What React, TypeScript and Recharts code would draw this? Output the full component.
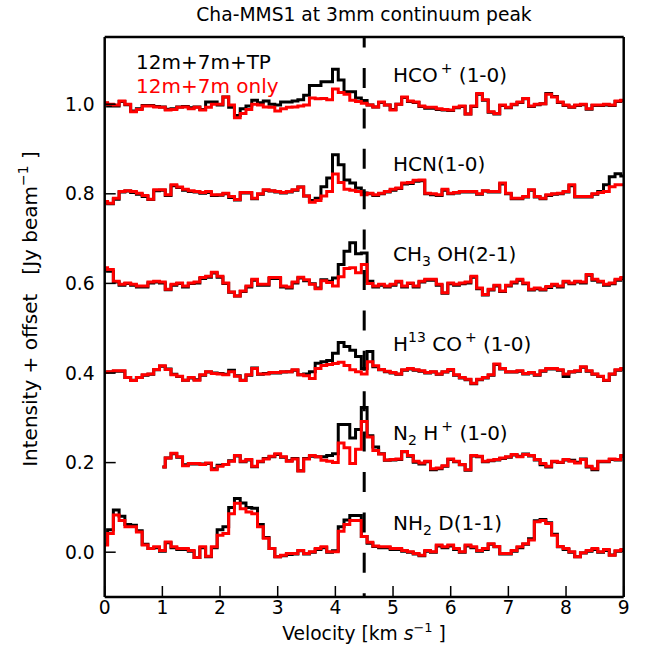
import { LineChart, Line, XAxis, YAxis, ReferenceLine } from "recharts";

// channel width of the spectra, km/s
const dv = 0.1;
const velTicks = [0, 1, 2, 3, 4, 5, 6, 7, 8, 9];
const intTicks = [0, 0.2, 0.4, 0.6, 0.8, 1.0];

// intensities in mJy/beam, one value per 0.1 km/s channel
// HCO+ (1-0), channels from 0.0 km/s
const hcoTP = [
  2, -4, -4, 6, -1, -15, -10, -3, -3, -5,
  -6, -11, -10, -6, -5, -8, -6, -12, 5, 5,
  -2, 16, -7, -25, -10, -4, 9, 3, 7, 0,
  -2, 5, 5, 7, 10, 20, 42, 42, 50, 50,
  78, 54, 28, 28, 14, 8, -2, -6, 4, -2,
  -12, 0, 15, 6, 4, -5, -9, -9, -12, -13,
  -14, -8, -5, -22, -5, 22, 9, -18, -22, -3,
  -8, -1, 4, 12, -5, -1, 1, 24, 17, 4,
  -3, -7, -3, -1, -11, -3, -3, -2, -3, 6, 8,
];
const hcoInt = [
  3, 0, -2, 7, 0, -17, -12, -4, -4, -6,
  -7, -13, -12, -7, -6, -10, -7, -13, -7, 0,
  0, 16, -2, -30, -21, -12, 0, -2, -6, -7,
  -15, -10, -7, -6, -4, -2, 14, 12, 13, 10,
  34, 26, 22, 9, 6, 2, -2, -6, 5, -2,
  -13, 0, 16, 7, 5, -4, -7, -7, -10, -12,
  -13, -7, -4, -22, -4, 24, 10, -17, -21, -2,
  -7, 0, 5, 13, -4, 0, 1, 22, 16, 5,
  -2, -6, -2, 0, -10, -2, -2, 0, -2, 7, 9,
];

// HCN (1-0)
const hcnTP = [
  -19, -22, -12, 4, 6, 3, -1, -6, -13, 7,
  8, -4, 18, 14, 8, 5, 4, 1, 3, -4,
  -3, 0, -8, -14, 2, 2, -11, -1, 8, 6,
  4, 2, 4, 8, 15, -5, -15, -10, 16, 35,
  87, 65, 31, 24, 13, 2, 0, -4, 0, 4,
  8, 12, 22, 23, 28, 29, 0, -2, -4, 8,
  0, 2, 4, 4, 4, -1, 6, 4, 4, 22,
  0, -11, -11, -7, 8, -7, -11, -4, -1, 0,
  4, 18, -7, -7, -7, -1, 5, 20, 38, 45, 40,
];
const hcnInt = [
  -17, -21, -10, 5, 7, 5, 1, -4, -12, 9,
  9, -2, 20, 15, 10, 7, 5, 3, 5, -2,
  -2, 1, -6, -13, 3, 3, -10, 0, 9, 7,
  5, 3, 5, 9, 15, -5, -19, -15, -5, 5,
  44, 25, 10, 8, 5, -2, 1, -2, 1, 5,
  10, 13, 24, 25, 30, 31, 1, 0, -2, 10,
  1, 3, 5, 5, 5, 0, 7, 5, 5, 24,
  1, -10, -10, -6, 9, -6, -10, -2, 0, 1,
  5, 20, -6, -6, -6, 0, 3, 5, 16, 20, 20,
];

// CH3OH (2-1)
const ch3ohTP = [
  30, 27, 3, -4, 0, -4, -8, -8, 1, 3,
  1, -14, -4, 0, -8, 0, 1, 11, 14, 23,
  14, 0, -20, -28, -18, -8, 7, -4, -4, 11,
  11, -8, -10, 1, 12, 6, -1, -10, 8, 5,
  12, 42, 72, 91, 66, 68, 5, -8, -4, -8,
  -4, 3, -8, 0, -8, 3, 7, 7, -4, -22,
  -1, -4, -1, 1, 14, -12, -26, -15, -6, -18,
  -6, 1, 7, -1, -15, -12, -15, -9, -4, -8,
  3, -1, 3, 1, 18, 7, 3, -4, -1, 7, 11,
];
const ch3ohInt = [
  35, 31, 5, -2, 1, -2, -6, -6, 3, 5,
  3, -13, -2, 1, -6, 1, 3, 13, 16, 25,
  16, 1, -19, -28, -17, -6, 9, -2, -2, 13,
  13, -6, -8, 3, 14, 8, -2, -12, 6, 2,
  -6, 15, 33, 35, 24, 42, 0, -6, -2, -6,
  -2, 5, -6, 1, -6, 5, 9, 9, -2, -21,
  1, -2, 1, 3, 16, -10, -25, -13, -4, -17,
  -4, 3, 9, 1, -13, -10, -13, -7, -2, -6,
  5, 1, 5, 3, 20, 9, 5, -2, 1, 9, 13,
];

// H13CO+ (1-0)
const h13coTP = [
  1, 2, 4, 4, -10, -16, -10, -5, -3, 7,
  15, 9, -3, -8, -16, -11, -15, -5, 2, 0,
  -1, -3, 6, -6, -16, -5, 11, -3, -1, 0,
  0, 2, 3, 6, -4, -2, 3, 22, 25, 28,
  44, 68, 59, 51, 37, 10, 48, 14, 7, 3,
  0, -3, 6, 9, 6, 4, 0, 2, -3, 2,
  6, -5, -11, -15, -24, -15, -11, -5, 19, 9,
  2, 2, 4, -2, 0, -5, 4, 9, 9, 6,
  -8, 2, 4, 13, 4, -3, -8, -17, -3, 6, 9,
];
const h13coInt = [
  1, 3, 5, 5, -10, -17, -10, -4, -2, 8,
  16, 8, -4, -7, -16, -10, -16, -4, 3, -1,
  -2, -4, 3, -7, -17, -4, 10, -2, -2, 1,
  1, 3, 3, 7, -4, -6, -12, 10, 17, 19,
  21, 24, 17, 7, 3, -2, 25, 16, 8, 4,
  1, -2, 7, 10, 7, 5, 1, 3, -2, 3,
  8, -4, -10, -14, -23, -14, -10, -4, 20, 10,
  3, 3, 5, -1, 1, -4, 5, 10, 10, 7,
  -2, 3, 5, 14, 5, -2, -7, -16, -2, 7, 10,
];

// N2H+ (1-0), channels from 1.0 km/s
const n2hStart = 1.0;
const n2hTP = [
  -10, 10, 20, 12, -5, -3, -3, -3, -2, -14,
  -6, -4, 4, 15, 2, 6, -9, 2, 9, 13,
  18, 12, 4, 9, -18, 9, 14, 13, 13, 16,
  20, 85, 85, 55, 74, 123, 60, 35, 20, 5,
  6, 7, 24, 14, 1, -3, 2, -16, -14, -8,
  7, 2, -5, -17, 15, 13, 2, 4, 6, 9,
  12, 17, 14, 19, 15, 6, -5, -10, 2, 0,
  6, 5, 1, 8, -10, -16, 2, 2, 7, 6, 15,
];
const n2hInt = [
  -10, 10, 21, 13, -7, -2, -2, -4, -1, -16,
  -8, -4, 3, 16, 3, 7, -8, 3, 8, 14,
  20, 13, 3, 8, -19, 8, 16, 13, 5, 3,
  0, 44, 33, -2, 30, 92, 57, 27, 19, 6,
  7, 8, 25, 16, 3, -1, 3, -14, -12, -7,
  8, 3, -4, -16, 16, 14, 3, 5, 7, 10,
  13, 18, 13, 18, 16, 7, -2, -8, 3, 1,
  7, 3, -1, 7, -8, -14, 3, 3, 8, 7, 16,
];

// NH2D (1-1)
const nh2dTP = [
  18, 50, 94, 80, 62, 60, 48, 18, 8, 10,
  2, 21, 10, 6, 6, 2, -12, 10, -10, 10,
  50, 57, 100, 120, 110, 100, 98, 62, 33, 8,
  -10, -8, -5, -4, 3, -4, 0, 6, 10, 0,
  3, 57, 72, 82, 82, 35, 20, 13, 10, 10,
  6, 6, 2, 0, -4, -8, 2, 0, 14, 10,
  14, 6, 0, 14, 10, 2, 6, 18, 12, -4,
  -4, 2, 10, 18, 30, 70, 73, 66, 40, 12,
  6, 0, -10, -2, 2, 6, 0, 4, -6, 2, 4,
];
const nh2dInt = [
  16, 42, 83, 71, 57, 57, 45, 16, 8, 12,
  4, 23, 12, 8, 8, 4, -12, 12, -9, 12,
  38, 42, 86, 109, 97, 90, 86, 57, 31, 8,
  -10, -7, -3, -3, 4, -3, 1, 8, 12, 1,
  1, 47, 62, 71, 71, 35, 22, 14, 12, 12,
  8, 8, 4, 1, -3, -7, 4, 1, 16, 12,
  16, 8, 1, 16, 12, 4, 8, 19, 13, -3,
  -3, 4, 12, 19, 27, 68, 71, 64, 38, 13,
  8, 1, -10, -1, 4, 8, 1, 6, -7, 3, 6,
];

const species = [
  { key: "hco", offset: 1.0, start: 0, tp: hcoTP, int: hcoInt },
  { key: "hcn", offset: 0.8, start: 0, tp: hcnTP, int: hcnInt },
  { key: "ch3oh", offset: 0.6, start: 0, tp: ch3ohTP, int: ch3ohInt },
  { key: "h13co", offset: 0.4, start: 0, tp: h13coTP, int: h13coInt },
  { key: "n2h", offset: 0.2, start: n2hStart, tp: n2hTP, int: n2hInt },
  { key: "nh2d", offset: 0.0, start: 0, tp: nh2dTP, int: nh2dInt },
];

function spectrum(vals: number[], start: number, offset: number) {
  return vals.map((m, i) => ({
    v: Math.round((start + i * dv) * 100) / 100,
    y: offset + m / 1000,
  }));
}

const FONT = "DejaVu Sans, sans-serif";
const W = 660;
const H = 646;
const plotTop = 37;
const plotH = 560;
const yMin = -0.1;
const yMax = 1.15;
const yPix = (val: number) => plotTop + ((yMax - val) / (yMax - yMin)) * plotH;

const sub = (s: string) => (
  <>
    <tspan dy={5} fontSize={14}>{s}</tspan>
    <tspan dy={-5}> </tspan>
  </>
);
const sup = (s: string) => (
  <>
    <tspan dx={3} dy={-9} fontSize={14}>{s}</tspan>
    <tspan dy={9}> </tspan>
  </>
);

const labels = [
  { offset: 1.0, body: <>HCO{sup("+")}(1-0)</> },
  { offset: 0.8, body: <>HCN(1-0)</> },
  { offset: 0.6, body: <>CH{sub("3")}OH(2-1)</> },
  { offset: 0.4, body: <>H<tspan dy={-9} fontSize={14}>13</tspan><tspan dy={9}> CO</tspan>{sup("+")}(1-0)</> },
  { offset: 0.2, body: <>N{sub("2")}H{sup("+")}(1-0)</> },
  { offset: 0.0, body: <>NH{sub("2")}D(1-1)</> },
];

const axisStyle = { stroke: "#000", strokeWidth: 2.5 };
const tickLineStyle = { stroke: "#000", strokeWidth: 1.5 };
const tickText = { fill: "#000", fontSize: 18.7, fontFamily: FONT };

export default function App() {
  return (
    <div style={{ position: "absolute", left: 0, top: 0, width: W, height: H, background: "#fff" }}>
      <LineChart width={W} height={H} margin={{ top: 27, right: 26.3, bottom: 19, left: 44.7 }}>
        <XAxis
          xAxisId="b"
          type="number"
          dataKey="v"
          domain={[0, 9]}
          ticks={velTicks}
          interval={0}
          allowDataOverflow
          height={30}
          axisLine={axisStyle}
          tickLine={tickLineStyle}
          tickSize={-11}
          tickMargin={15}
          tick={tickText}
        />
        <XAxis
          xAxisId="t"
          orientation="top"
          type="number"
          domain={[0, 9]}
          ticks={velTicks}
          interval={0}
          allowDataOverflow
          height={10}
          axisLine={axisStyle}
          tickLine={tickLineStyle}
          tickSize={-11}
          tick={false}
        />
        <YAxis
          yAxisId="l"
          type="number"
          domain={[yMin, yMax]}
          ticks={intTicks}
          interval={0}
          allowDataOverflow
          width={60}
          axisLine={axisStyle}
          tickLine={tickLineStyle}
          tickSize={-11}
          tickMargin={21}
          tick={tickText}
          tickFormatter={(v: number) => v.toFixed(1)}
        />
        <YAxis
          yAxisId="r"
          orientation="right"
          type="number"
          domain={[yMin, yMax]}
          ticks={intTicks}
          interval={0}
          allowDataOverflow
          width={10}
          axisLine={axisStyle}
          tickLine={tickLineStyle}
          tickSize={-11}
          tick={false}
        />
        {species.flatMap((s) => [
          <Line
            key={s.key + "-tp"}
            xAxisId="b"
            yAxisId="l"
            data={spectrum(s.tp, s.start, s.offset)}
            dataKey="y"
            type="step"
            stroke="#000"
            strokeWidth={3}
            dot={false}
            activeDot={false}
            isAnimationActive={false}
          />,
          <Line
            key={s.key + "-int"}
            xAxisId="b"
            yAxisId="l"
            data={spectrum(s.int, s.start, s.offset)}
            dataKey="y"
            type="step"
            stroke="#ff0000"
            strokeWidth={3}
            dot={false}
            activeDot={false}
            isAnimationActive={false}
          />,
        ])}
        <ReferenceLine
          xAxisId="b"
          yAxisId="l"
          segment={[{ x: 4.5, y: yMax }, { x: 4.5, y: yMin }]}
          stroke="#000"
          strokeWidth={3}
          strokeDasharray="20 20.4"
          strokeDashoffset={9.4}
        />
      </LineChart>
      <svg width={W} height={H} style={{ position: "absolute", left: 0, top: 0, pointerEvents: "none" }}>
        <text x={364} y={21} textAnchor="middle" fontSize={18.7} fontFamily={FONT} fill="#000">
          Cha-MMS1 at 3mm continuum peak
        </text>
        <text x={136} y={69} fontSize={20} fontFamily={FONT} fill="#000">12m+7m+TP</text>
        <text x={136} y={93} fontSize={20} fontFamily={FONT} fill="#ff0000">12m+7m only</text>
        {labels.map((l) => (
          <text key={l.offset} x={393} y={yPix(l.offset + 0.05)} fontSize={20} fontFamily={FONT} fill="#000" style={{ whiteSpace: "pre" }}>
            {l.body}
          </text>
        ))}
        <text x={364} y={640} textAnchor="middle" fontSize={18.7} fontFamily={FONT} fill="#000">
          Velocity [km <tspan fontStyle="italic">s</tspan>
          <tspan dy={-8} fontSize={13}>−1</tspan>
          <tspan dy={8}> ]</tspan>
        </text>
        <text
          x={37}
          y={309}
          transform="rotate(-90, 37, 309)"
          textAnchor="middle"
          fontSize={20}
          fontFamily={FONT}
          fill="#000"
          style={{ whiteSpace: "pre" }}
        >
          Intensity + offset   [Jy beam<tspan dy={-9} fontSize={14}>−1</tspan>
          <tspan dy={9}> ]</tspan>
        </text>
      </svg>
    </div>
  );
}
